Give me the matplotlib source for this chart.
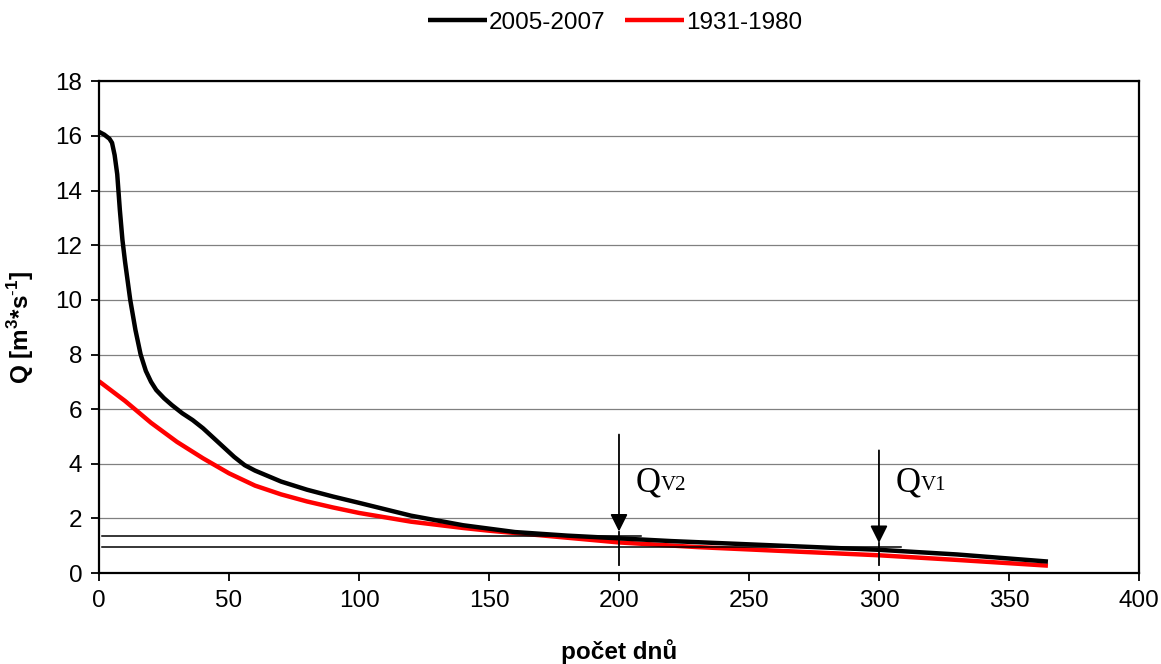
import numpy as np
import matplotlib
matplotlib.use("Agg")
import matplotlib.pyplot as plt

plt.rcParams['font.family'] = ['Liberation Sans', 'DejaVu Sans']
plt.rcParams['mathtext.fontset'] = 'custom'
plt.rcParams['mathtext.rm'] = 'Liberation Sans'
plt.rcParams['mathtext.bf'] = 'Liberation Sans:bold'

# duration curve 2005-2007
days_new = [0, 2, 4, 5, 6, 7, 8, 9, 10, 12, 14, 16, 18, 20, 22, 25, 28, 32, 36, 40,
            44, 48, 52, 56, 60, 70, 80, 90, 100, 120, 140, 160, 180, 200, 220, 250,
            280, 300, 330, 365]
q_new = [16.15, 16.05, 15.9, 15.75, 15.3, 14.6, 13.3, 12.2, 11.4, 10.0, 8.9, 8.0, 7.4,
         7.0, 6.7, 6.4, 6.15, 5.85, 5.6, 5.3, 4.95, 4.6, 4.25, 3.95, 3.75, 3.35, 3.05,
         2.8, 2.57, 2.1, 1.75, 1.5, 1.37, 1.27, 1.17, 1.05, 0.93, 0.85, 0.68, 0.42]

# duration curve 1931-1980
days_old = [0, 10, 20, 30, 40, 50, 60, 70, 80, 90, 100, 120, 140, 150, 170, 200, 230,
            260, 300, 330, 365]
q_old = [7.02, 6.3, 5.5, 4.8, 4.2, 3.65, 3.2, 2.88, 2.62, 2.4, 2.2, 1.88, 1.65, 1.55,
         1.38, 1.12, 0.95, 0.82, 0.65, 0.48, 0.27]

# Q_V2 / Q_V1 markers: (day, q level, arrow top, subscript)
marks = [(200, 1.37, 5.07, 'V2'),
         (300, 0.95, 4.49, 'V1')]

fig = plt.figure(figsize=(11.61, 6.64), dpi=100)
ax = fig.add_axes([0.0853, 0.137, 0.8957, 0.7405])

ax.plot(days_new, q_new, color='black', lw=3.2, label='2005-2007', zorder=3,
        solid_capstyle='butt')
ax.plot(days_old, q_old, color='#ff0000', lw=3.2, label='1931-1980', zorder=2,
        solid_capstyle='butt')

for day, lev, top, sub in marks:
    ax.plot([1, day + 8.5], [lev, lev], color='black', lw=1.1, zorder=4)
    ax.annotate('', xy=(day, lev + 0.15), xytext=(day, top),
                arrowprops=dict(arrowstyle='-|>,head_length=0.7,head_width=0.35',
                                mutation_scale=15, color='black', lw=1.3,
                                shrinkA=0, shrinkB=0), zorder=5)
    ax.plot([day, day], [lev + 0.15, 0.28], color='black', lw=1.3, zorder=5)
    qt = ax.text(day + 6.5, 3.3, 'Q', fontsize=25, va='center', ha='left',
                 family='Liberation Serif')
    ax.annotate(sub, xy=(1.0, 0.12), xycoords=qt, fontsize=15, va='bottom',
                ha='left', family='Liberation Serif')

ax.set_xlim(0, 400)
ax.set_ylim(0, 18)
ax.set_xticks(np.arange(0, 401, 50))
ax.set_yticks(np.arange(0, 19, 2))
ax.grid(axis='y', color='#808080', lw=0.9)
ax.set_axisbelow(True)
for s in ax.spines.values():
    s.set_color('black')
    s.set_linewidth(1.6)
ax.tick_params(labelsize=17.5, direction='out', length=6, width=1.3, pad=6)

ax.set_xlabel('počet dnů', fontsize=17.5, fontweight='bold', labelpad=20)
ax.set_ylabel(r'Q [m$^\mathbf{3}$*s$^\mathbf{\text{-}1}$]', fontsize=17.5,
              fontweight='bold', labelpad=14)

fig.legend(loc='upper center', bbox_to_anchor=(0.53, 1.015), ncol=2, frameon=False,
           fontsize=17.5, handlelength=2.4, handletextpad=0.1, columnspacing=0.8)

fig.savefig('out.png', dpi=100)
